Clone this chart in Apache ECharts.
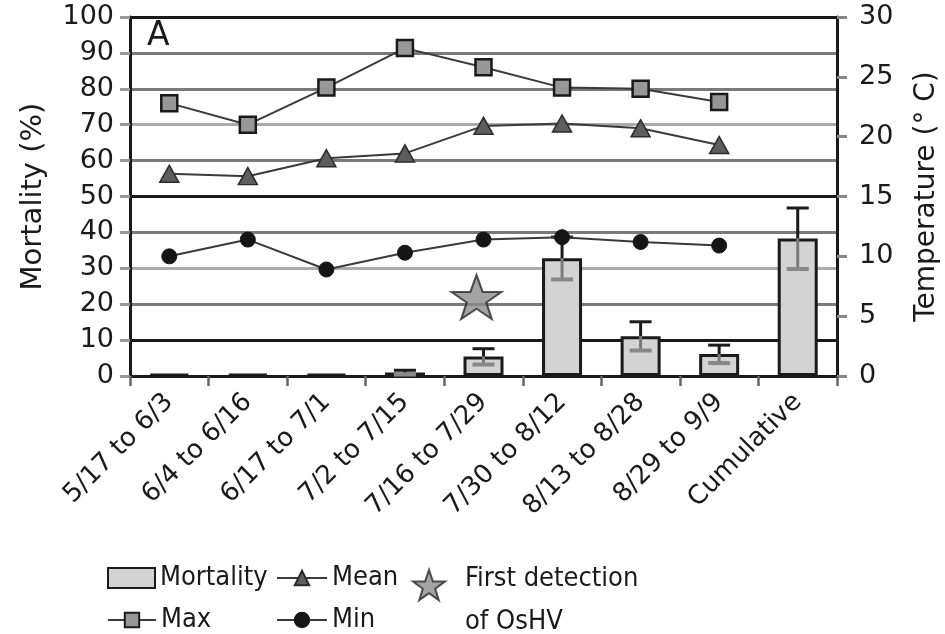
<!DOCTYPE html>
<html>
<head>
<meta charset="utf-8">
<script src="https://cdn.jsdelivr.net/npm/echarts@6/dist/echarts.min.js"></script>
<style>html,body{margin:0;padding:0;background:#fff}#c{width:945px;height:634px}</style>
</head>
<body>
<div id="c"></div>
<script>
// ---- data ----
const categories = ['5/17 to 6/3','6/4 to 6/16','6/17 to 7/1','7/2 to 7/15','7/16 to 7/29','7/30 to 8/12','8/13 to 8/28','8/29 to 9/9','Cumulative'];
const mortality = [0.5, 0.5, 0.5, 1.0, 5.4, 32.8, 11.1, 6.1, 38.3];
const mortalityErr = [0, 0, 0, 0.6, 2.2, 5.9, 4.0, 2.5, 8.5];
const tempMax = [22.8, 21.0, 24.1, 27.4, 25.8, 24.1, 24.0, 22.9, null];
const tempMean = [16.9, 16.7, 18.2, 18.6, 20.9, 21.1, 20.7, 19.3, null];
const tempMin = [10.0, 11.4, 8.9, 10.3, 11.4, 11.6, 11.2, 10.9, null];
const firstDetection = [[4, 22]];
const mortalityTicks = [0,10,20,30,40,50,60,70,80,90,100];
const tempTicks = [0,5,10,15,20,25,30];

const AX_FONT = 'DejaVu Sans';
const LG_FONT = '"Liberation Sans Narrow", "DejaVu Sans Condensed", "Liberation Sans", sans-serif';
const STAR = 'path://M50,0 L61.8,35.1 L98.1,35.1 L68.8,56.8 L79.4,91 L50,70 L20.6,91 L31.2,56.8 L1.9,35.1 L38.2,35.1 Z';

const chart = echarts.init(document.getElementById('c'), null, {renderer: 'canvas'});

const lgText = {fontFamily: LG_FONT, fontSize: 27, color: '#1a1a1a', lineHeight: 32};
function lg(name, left, top, extra) {
  return Object.assign({
    data: [name], left: left, top: top, padding: 0, orient: 'horizontal',
    itemWidth: 48, itemHeight: 18, textStyle: lgText, selectedMode: false
  }, extra || {});
}

chart.setOption({
  animation: false,
  backgroundColor: '#fff',
  grid: {left: 130, right: 108, top: 17, bottom: 258, containLabel: false, outerBoundsMode: 'none'},
  graphic: [{type: 'text', left: 147, top: 20, style: {text: 'A', fontFamily: AX_FONT, fontSize: 33, fill: '#1a1a1a'}}],
  legend: [
    lg('Mortality', 107, 562, {itemWidth: 47, itemHeight: 20, icon: 'rect'}),
    lg('Max', 107, 604),
    lg('Mean', 276, 562, {itemWidth: 50}),
    lg('Min', 276, 604, {itemWidth: 50}),
    lg('First detection of OsHV', 412, 527, {
      itemWidth: 32, itemHeight: 44,
      formatter: function(){ return '{s| }\n{t|First detection}\n{t|of OsHV}'; },
      textStyle: Object.assign({}, lgText, {
        padding: [0, 0, 0, 15],
        rich: {
          s: {fontFamily: LG_FONT, fontSize: 10, lineHeight: 30},
          t: {fontFamily: LG_FONT, fontSize: 27, lineHeight: 43, color: '#1a1a1a'}
        }
      })
    })
  ],
  xAxis: {
    type: 'category', data: categories, boundaryGap: true,
    axisLine: {lineStyle: {color: '#1a1a1a', width: 3}},
    axisTick: {show: true, length: 10, lineStyle: {color: '#666', width: 2.5}},
    axisLabel: {rotate: 45, margin: 22, fontFamily: AX_FONT, fontSize: 26, color: '#1a1a1a', interval: 0}
  },
  yAxis: [
    {
      type: 'value', min: 0, max: 100, interval: 10,
      name: 'Mortality (%)', nameLocation: 'middle', nameRotate: 90, nameGap: 82,
      nameTextStyle: {fontFamily: AX_FONT, fontSize: 29, color: '#1a1a1a'},
      axisLine: {show: true, lineStyle: {color: '#1a1a1a', width: 3}},
      axisTick: {show: true, length: 10, lineStyle: {color: '#999', width: 3}},
      axisLabel: {margin: 16, fontFamily: AX_FONT, fontSize: 27, color: '#1a1a1a'},
      splitLine: {show: true, lineStyle: {width: 3, color: ['#1a1a1a','#1a1a1a','#7a7a7a','#ababab','#7a7a7a','#1a1a1a','#7a7a7a','#ababab','#7a7a7a','#7a7a7a','#1a1a1a']}}
    },
    {
      type: 'value', min: 0, max: 30, interval: 5, position: 'right',
      name: 'Temperature (° C)', nameLocation: 'middle', nameRotate: 90, nameGap: 76,
      nameTextStyle: {fontFamily: AX_FONT, fontSize: 28, color: '#1a1a1a'},
      axisLine: {show: true, lineStyle: {color: '#1a1a1a', width: 3}},
      axisTick: {show: true, length: 10, lineStyle: {color: '#888', width: 3}},
      axisLabel: {margin: 22, fontFamily: AX_FONT, fontSize: 27, color: '#1a1a1a'},
      splitLine: {show: false}
    }
  ],
  series: [
    {
      name: 'Mortality', type: 'bar', data: mortality, barWidth: 40, z: 2,
      itemStyle: {color: '#d3d3d3', borderColor: '#1a1a1a', borderWidth: 3}
    },
    {
      name: 'errors', type: 'custom', z: 3, yAxisIndex: 0,
      data: categories.map((c, i) => [i, mortality[i], mortalityErr[i]]),
      renderItem: function(params, api) {
        const i = api.value(0), v = api.value(1), e = api.value(2);
        if (!e) return null;
        const top = api.coord([i, v + e]), mid = api.coord([i, v]), bot = api.coord([i, v - e]);
        const hw = 11;
        return {type: 'group', children: [
          {type: 'line', shape: {x1: top[0], y1: top[1], x2: mid[0], y2: mid[1]}, style: {stroke: '#1a1a1a', lineWidth: 3}},
          {type: 'line', shape: {x1: mid[0], y1: mid[1], x2: bot[0], y2: bot[1]}, style: {stroke: '#7a7a7a', lineWidth: 3}},
          {type: 'line', shape: {x1: top[0]-hw, y1: top[1], x2: top[0]+hw, y2: top[1]}, style: {stroke: '#1a1a1a', lineWidth: 3}},
          {type: 'line', shape: {x1: bot[0]-hw, y1: bot[1], x2: bot[0]+hw, y2: bot[1]}, style: {stroke: '#888', lineWidth: 4}}
        ]};
      }
    },
    {
      name: 'Max', type: 'line', yAxisIndex: 1, data: tempMax, z: 4,
      symbol: 'rect', symbolSize: 16,
      lineStyle: {color: '#3a3a3a', width: 2},
      itemStyle: {color: '#979797', borderColor: '#1a1a1a', borderWidth: 2.5}
    },
    {
      name: 'Mean', type: 'line', yAxisIndex: 1, data: tempMean, z: 4,
      symbol: 'triangle', symbolSize: [19, 17],
      lineStyle: {color: '#3a3a3a', width: 2},
      itemStyle: {color: '#5e5e5e', borderColor: '#2a2a2a', borderWidth: 1.5}
    },
    {
      name: 'Min', type: 'line', yAxisIndex: 1, data: tempMin, z: 4,
      symbol: 'circle', symbolSize: 15,
      lineStyle: {color: '#3a3a3a', width: 2},
      itemStyle: {color: '#151515', borderColor: '#151515', borderWidth: 1}
    },
    {
      name: 'First detection of OsHV', type: 'scatter', yAxisIndex: 0, data: firstDetection, z: 5,
      symbol: STAR, symbolSize: [50, 44], symbolOffset: [-7, 0],
      itemStyle: {color: '#8c8c8c', borderColor: '#2a2a2a', borderWidth: 2}
    }
  ]
});
</script>
</body>
</html>
